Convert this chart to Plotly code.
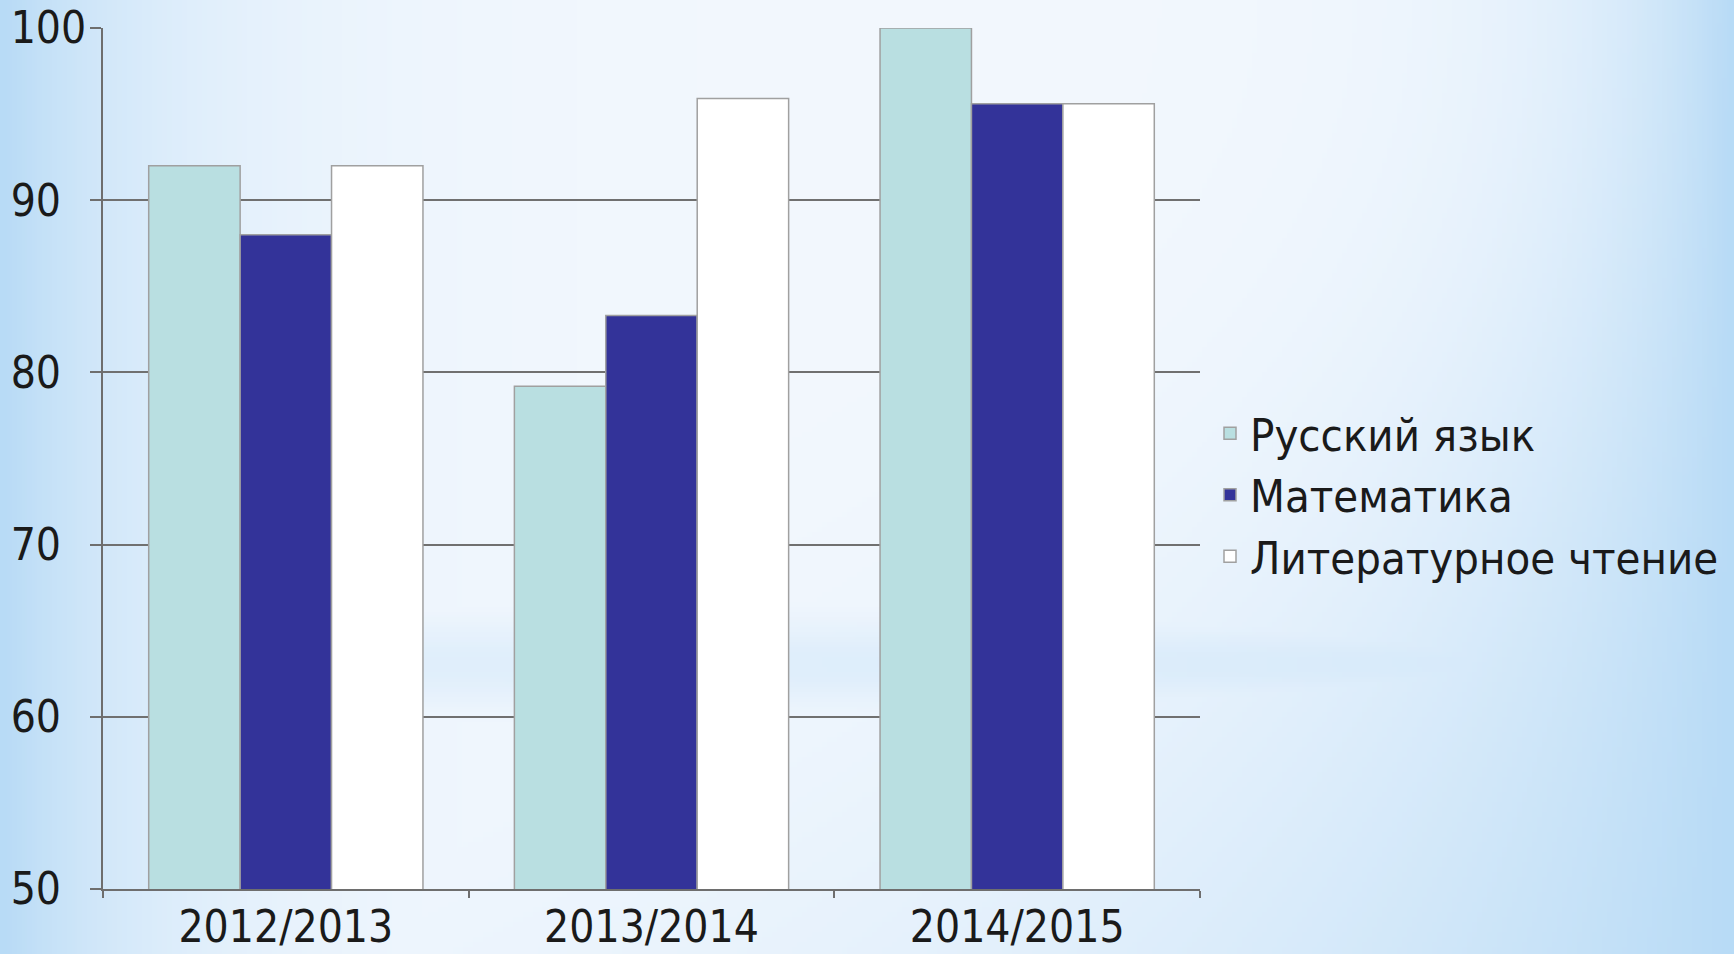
import base64, zlib, struct
import numpy as np
import plotly.graph_objects as go

# ---- data ----
years = ["2012/2013", "2013/2014", "2014/2015"]
russian = [92.0, 79.2, 100.0]
math_ = [88.0, 83.3, 95.6]
literature = [92.0, 95.9, 95.6]
series_names = ["Русский язык", "Математика", "Литературное чтение"]
y_ticks = [50, 60, 70, 80, 90, 100]
y_ticktext = ["50\u2007", "60\u2007", "70\u2007", "80\u2007", "90\u2007", "100"]

W, H = 1734, 954
L, R, T, B = 103, 1200, 28, 889

# ---- background gradient image ----
def make_bg(w=347, h=191):
    xs = np.linspace(0, W, w)[None, :]
    ys = np.linspace(0, H, h)[:, None]
    left = np.exp(-xs / 170.0)
    rs = 140 + 420 * (ys / H) ** 2
    right = np.exp(-(W - xs) / rs)
    band = 0.45 * np.exp(-((ys - 665) / 45.0) ** 2) * (0.35 + 0.65 * np.maximum(left, np.exp(-(W - xs) / 500.0)) + 0.3)
    wgt = np.clip(np.maximum(np.maximum(left, right), band), 0, 1)
    base = np.array([243, 248, 254], dtype=float)
    blue = np.array([184, 219, 246], dtype=float)
    img = base[None, None, :] * (1 - wgt[..., None]) + blue[None, None, :] * wgt[..., None]
    return img.astype(np.uint8)

def to_png(arr):
    h, w, _ = arr.shape
    raw = b"".join(b"\x00" + arr[i].tobytes() for i in range(h))
    def chunk(t, d):
        c = struct.pack(">I", len(d)) + t + d
        return c + struct.pack(">I", zlib.crc32(t + d) & 0xffffffff)
    return (b"\x89PNG\r\n\x1a\n" + chunk(b"IHDR", struct.pack(">IIBBBBB", w, h, 8, 2, 0, 0, 0))
            + chunk(b"IDAT", zlib.compress(raw, 9)) + chunk(b"IEND", b""))

bg_src = "data:image/png;base64," + base64.b64encode(to_png(make_bg())).decode()

colors = ["#b9dfe1", "#333399", "#ffffff"]
values = [russian, math_, literature]

fig = go.Figure()
for name, vals, col in zip(series_names, values, colors):
    fig.add_trace(go.Bar(
        x=years, y=vals, name=name,
        marker=dict(color=col, line=dict(color="#a0a0a0", width=1.5)),
    ))

pw, ph = R - L, B - T
fig.update_layout(
    width=W, height=H,
    margin=dict(l=L, r=W - R, t=T, b=H - B, pad=0, autoexpand=False),
    paper_bgcolor="#f3f8fe",
    plot_bgcolor="rgba(0,0,0,0)",
    barmode="group", bargap=0.25, bargroupgap=0,
    font=dict(family="DejaVu Sans Condensed, DejaVu Sans, sans-serif", color="#1a1a1a"),
    showlegend=True,
    legend=dict(
        x=(1210 - L) / pw, y=(B - 495) / ph, xanchor="left", yanchor="middle",
        font=dict(size=45, color="#1a1a1a"), bgcolor="rgba(0,0,0,0)",
        tracegroupgap=0, itemwidth=30,
    ),
    images=[dict(
        source=bg_src, xref="paper", yref="paper",
        x=-L / pw, y=1 + T / ph, sizex=W / pw, sizey=H / ph,
        xanchor="left", yanchor="top", sizing="stretch", layer="below",
    )],
)
fig.update_xaxes(
    automargin=False,
    showline=True, linecolor="#6e6e6e", linewidth=2,
    ticks="outside", tickson="boundaries", ticklen=7, tickcolor="#6e6e6e", tickwidth=2,
    tickfont=dict(size=44), showgrid=False, ticklabelstandoff=-2,
)
fig.update_yaxes(
    automargin=False,
    range=[50, 100], tickvals=y_ticks, ticktext=y_ticktext,
    showline=True, linecolor="#6e6e6e", linewidth=2,
    ticks="outside", ticklen=11, tickcolor="#6e6e6e", tickwidth=2,
    showgrid=True, gridcolor="#707070", gridwidth=2,
    tickfont=dict(size=44), zeroline=False, ticklabelstandoff=-5,
)

fig.write_html("out.html", config={"displayModeBar": False},
               post_script="document.body.style.margin='0';")
